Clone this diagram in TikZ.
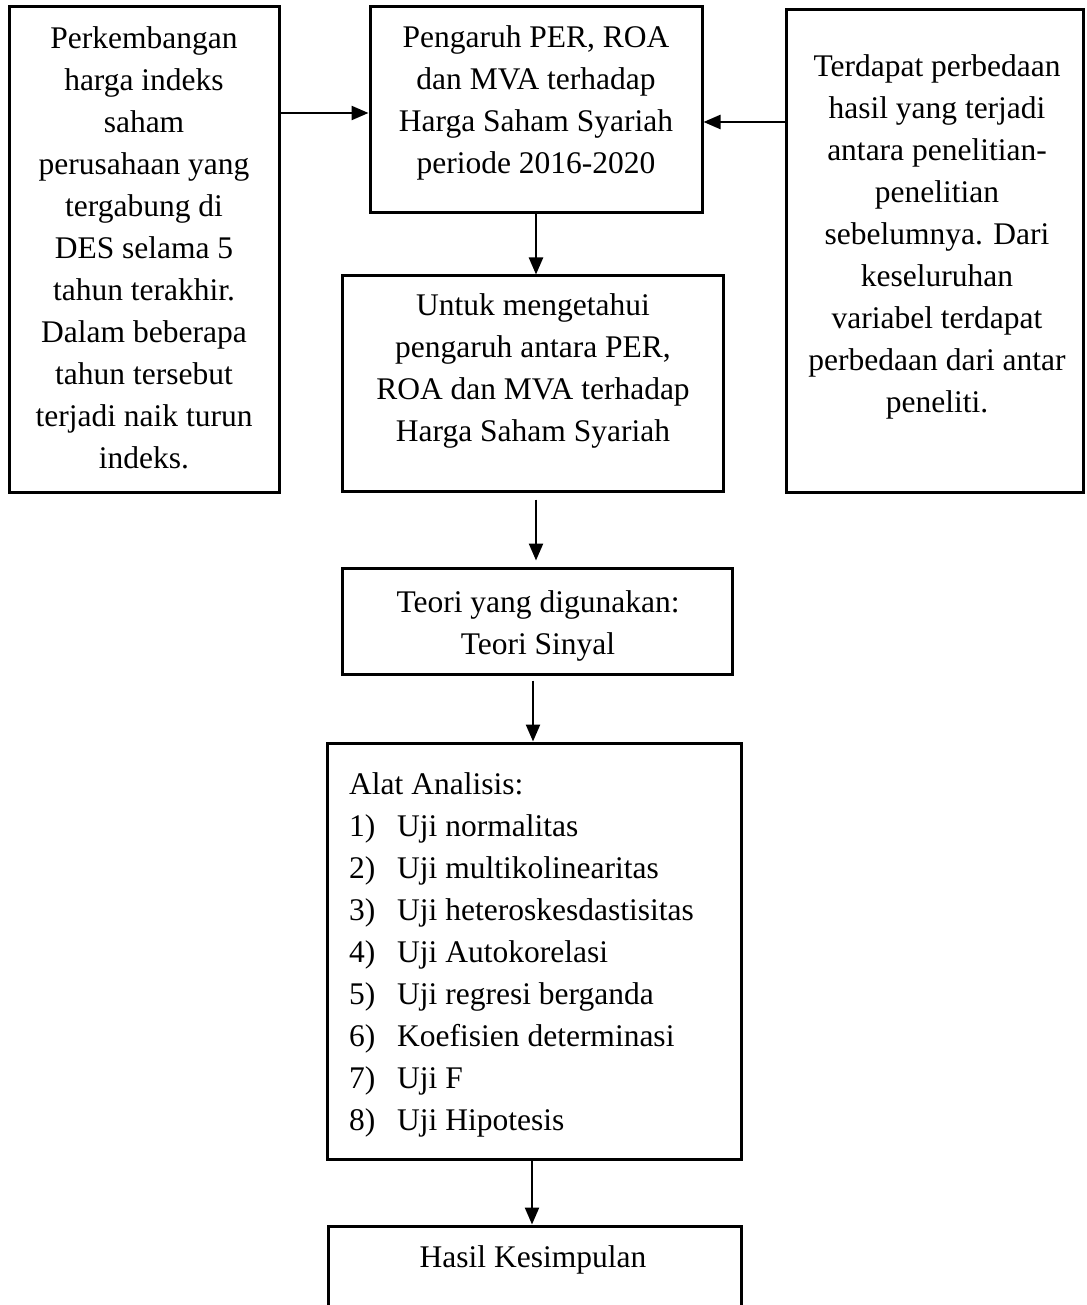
\documentclass[tikz,border=0pt]{standalone}
\usepackage{fontspec}
\setmainfont{Liberation Serif}
\usetikzlibrary{arrows.meta}
\begin{document}
\begin{tikzpicture}[x=1pt,y=-1pt,
  box/.style={draw, line width=3pt, inner sep=0pt, rectangle},
  txt/.style={align=center, inner sep=0pt, font=\fontsize{31.5}{42}\selectfont},
  arr/.style={line width=2.4pt, -{Triangle[length=17pt,width=14pt]}}]
\useasboundingbox (0,0) rectangle (1086,1305);
\fill[white] (0,0) rectangle (1086,1305);
\begin{scope}
\clip (0,0) rectangle (1086,1305);
% boxes
\node[box, minimum width=270pt, minimum height=485pt] (L) at (144,249.5) {};
\node[box, minimum width=332pt, minimum height=206pt] (T) at (536,110) {};
\node[box, minimum width=297pt, minimum height=482pt] (R) at (934.5,251) {};
\node[box, minimum width=381pt, minimum height=215pt] (U) at (532.5,383.5) {};
\node[box, minimum width=390pt, minimum height=106pt] (Te) at (537,621) {};
\node[box, minimum width=414pt, minimum height=416pt] (A) at (534,951) {};
\node[box, minimum width=413pt, minimum height=140pt] (H) at (534.5,1296) {};
% texts
\node[txt] (Lt) at (144,248) {Perkembangan\\harga indeks\\saham\\perusahaan yang\\tergabung di\\DES selama 5\\tahun terakhir.\\Dalam beberapa\\tahun tersebut\\terjadi naik turun\\indeks.};
\node[txt] (Tt) at (536,103) {Pengaruh PER, ROA\\dan MVA terhadap\\Harga Saham Syariah\\periode 2016-2020};
\node[txt] (Rt) at (937,237) {Terdapat perbedaan\\hasil yang terjadi\\antara penelitian-\\penelitian\\sebelumnya. Dari\\keseluruhan\\variabel terdapat\\perbedaan dari antar\\peneliti.};
\node[txt] (Ut) at (533,371) {Untuk mengetahui\\pengaruh antara PER,\\ROA dan MVA terhadap\\Harga Saham Syariah};
\node[txt] (Tet) at (538,626) {Teori yang digunakan:\\Teori Sinyal};
\node[txt, align=left, anchor=west] (At) at (349,955) {Alat Analisis:\\
\makebox[48pt][l]{1)}Uji normalitas\\
\makebox[48pt][l]{2)}Uji multikolinearitas\\
\makebox[48pt][l]{3)}Uji heteroskesdastisitas\\
\makebox[48pt][l]{4)}Uji Autokorelasi\\
\makebox[48pt][l]{5)}Uji regresi berganda\\
\makebox[48pt][l]{6)}Koefisien determinasi\\
\makebox[48pt][l]{7)}Uji F\\
\makebox[48pt][l]{8)}Uji Hipotesis};
\node[txt] (Ht) at (533,1260) {Hasil Kesimpulan};
% connectors
\coordinate (a1) at (0,113);
\coordinate (a2) at (0,122);
\coordinate (c1) at (536,0);
\coordinate (c2) at (533,0);
\coordinate (c3) at (532,0);
\draw[arr] (L.east |- a1) -- (T.west |- a1);
\draw[arr] (R.west |- a2) -- (T.east |- a2);
\draw[arr] (c1 |- T.south) -- (c1 |- U.north);
\draw[arr, shorten <=7pt, shorten >=6pt] (c1 |- U.south) -- (c1 |- Te.north);
\draw[arr, shorten <=5pt] (c2 |- Te.south) -- (c2 |- A.north);
\draw[arr] (c3 |- A.south) -- (c3 |- H.north);
\end{scope}
\end{tikzpicture}
\end{document}
